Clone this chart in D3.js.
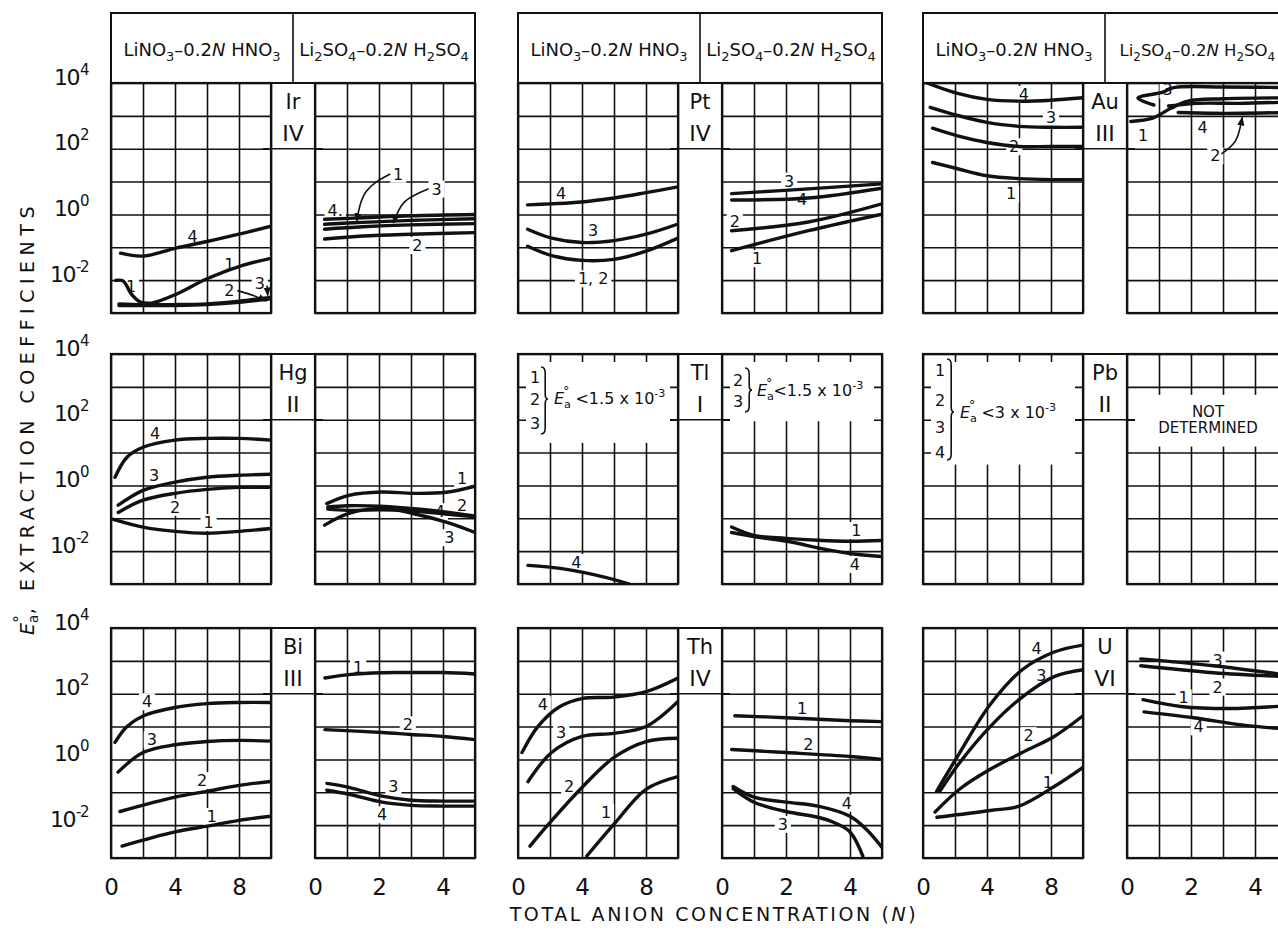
<!DOCTYPE html>
<html lang="en">
<head>
<meta charset="UTF-8">
<title>Extraction coefficients</title>
<script src="https://d3js.org/d3.v7.min.js"></script>
<style>
  body { margin: 0; background: #fff; }
  text { font-family: "DejaVu Sans", sans-serif; fill: #111; }
  .grid line { stroke: #111; stroke-width: 1.6; }
  .grid path { display: none; }
  .curve { fill: none; stroke: #111; stroke-width: 3.4; stroke-linecap: round; }
  .arrow { fill: none; stroke: #111; stroke-width: 1.6; }
</style>
</head>
<body>
<script>
// ---------- data (N, E) ----------
const elements = ["Ir", "Pt", "Au", "Hg", "Tl", "Pb", "Bi", "Th", "U"];
const valences = ["IV", "IV", "III", "II", "I", "II", "III", "IV", "VI"];
const nitrateTicks = [0, 4, 8];
const sulfateTicks = [0, 2, 4];
const decadeLabels = [1e4, 1e2, 1, 1e-2];
const decadeExp = ["4", "2", "0", "-2"];

const irNO3 = [
  { id: "4", pts: [[0.6, 0.066], [2, 0.054], [4, 0.093], [6, 0.15], [8, 0.25], [10, 0.44]] },
  { id: "1", pts: [[0.3, 0.0098], [0.75, 0.0095], [1.3, 0.0036], [1.8, 0.0022], [2.5, 0.002], [4, 0.0036], [6, 0.011], [8, 0.026], [10, 0.046]] },
  { id: "2", pts: [[0.5, 0.0017], [2, 0.0017], [4, 0.0017], [6, 0.0018], [8, 0.0021], [10, 0.0027]] },
  { id: "3", pts: [[0.5, 0.0019], [2, 0.0018], [4, 0.0018], [6, 0.0019], [8, 0.0023], [10, 0.003]] }
];
const irSO4 = [
  { id: "4", pts: [[0.3, 0.71], [1.5, 0.79], [3, 0.91], [5, 1.0]] },
  { id: "1", pts: [[0.3, 0.5], [1.5, 0.575], [3, 0.66], [5, 0.74]] },
  { id: "3", pts: [[0.3, 0.355], [1.5, 0.42], [3, 0.48], [5, 0.525]] },
  { id: "2", pts: [[0.3, 0.178], [1.5, 0.22], [3, 0.25], [5, 0.28]] }
];
const ptNO3 = [
  { id: "4", pts: [[0.6, 1.95], [2, 2.1], [4, 2.4], [6, 3.16], [8, 4.6], [10, 6.9]] },
  { id: "3", pts: [[0.6, 0.355], [2.1, 0.19], [4, 0.14], [6, 0.16], [8, 0.25], [10, 0.51]] },
  { id: "1,2", pts: [[0.6, 0.107], [2.1, 0.056], [4, 0.04], [6, 0.043], [8, 0.076], [10, 0.19]] }
];
const ptSO4 = [
  { id: "3", pts: [[0.3, 4.3], [2.7, 6.0], [5, 8.5]] },
  { id: "4", pts: [[0.3, 2.75], [2.7, 3.16], [5, 6.3]] },
  { id: "2", pts: [[0.3, 0.32], [2.7, 0.59], [5, 2.1]] },
  { id: "1", pts: [[0.3, 0.079], [2.7, 0.32], [5, 1.02]] }
];
const auNO3 = [
  { id: "4", pts: [[0.25, 10000], [2.1, 4900], [4, 3160], [6, 2800], [8, 3000], [10, 3550]] },
  { id: "3", pts: [[0.45, 1820], [2.1, 1050], [4, 630], [6, 480], [8, 450], [10, 450]] },
  { id: "2", pts: [[0.6, 420], [2.1, 250], [4, 155], [6, 117], [8, 117], [10, 117]] },
  { id: "1", pts: [[0.6, 38], [2.1, 25], [4, 15], [6, 12.3], [8, 11.5], [10, 11.5]] }
];
const auSO4 = [
  { id: "3", pts: [[0.84, 2140], [0.34, 3470], [1.12, 5250], [1.46, 7240], [3, 7590], [5, 7240]] },
  { id: "1", pts: [[0.12, 676], [0.8, 850], [1.37, 1700], [1.9, 2820], [3, 3310], [5, 3550]] },
  { id: "2", pts: [[1.3, 2000], [2.2, 2400], [3.5, 2400], [5, 2630]] },
  { id: "4", pts: [[1.6, 1260], [2.6, 1200], [3.6, 1200], [5, 1260]] }
];
const hgNO3 = [
  { id: "4", pts: [[0.25, 1.78], [1, 7.2], [2, 14.5], [4, 24], [6, 27], [8, 27], [10, 24]] },
  { id: "3", pts: [[0.45, 0.25], [2, 0.71], [4, 1.26], [6, 1.78], [8, 2.04], [10, 2.19]] },
  { id: "2", pts: [[0.45, 0.15], [2, 0.355], [4, 0.575], [6, 0.76], [8, 0.87], [10, 0.87]] },
  { id: "1", pts: [[0.15, 0.093], [2, 0.054], [4, 0.04], [6, 0.035], [8, 0.04], [10, 0.049]] }
];
const hgSO4 = [
  { id: "1", pts: [[0.37, 0.28], [1.06, 0.5], [2.1, 0.63], [3.06, 0.575], [4.1, 0.62], [5, 0.95]] },
  { id: "2", pts: [[0.4, 0.22], [1, 0.24], [2, 0.234], [3, 0.2], [4, 0.16], [5, 0.117]] },
  { id: "4", pts: [[0.4, 0.19], [1, 0.174], [2, 0.18], [3, 0.166], [4, 0.138], [5, 0.11]] },
  { id: "3", pts: [[0.3, 0.062], [1.06, 0.14], [2.1, 0.2], [3.06, 0.14], [4.1, 0.076], [5, 0.037]] }
];
const tlNO3 = [
  { id: "4", pts: [[0.62, 0.0037], [2.1, 0.0032], [4, 0.0023], [6.8, 0.00105], [7.2, 0.00089]] }
];
const tlSO4 = [
  { id: "1", pts: [[0.3, 0.054], [1.0, 0.03], [2, 0.0245], [3, 0.0214], [4, 0.02], [5, 0.021]] },
  { id: "4", pts: [[0.3, 0.037], [1.0, 0.028], [2.2, 0.0186], [3, 0.0126], [4, 0.0085], [5, 0.0069]] }
];
const pbNO3 = [];
const pbSO4 = [];
const biNO3 = [
  { id: "4", pts: [[0.25, 3.3], [1, 10], [2, 21], [4, 38], [6, 50], [8, 54], [10, 54]] },
  { id: "3", pts: [[0.44, 0.41], [2, 1.62], [4, 2.8], [6, 3.5], [8, 3.8], [10, 3.6]] },
  { id: "2", pts: [[0.56, 0.026], [4, 0.071], [6, 0.107], [8, 0.162], [10, 0.214]] },
  { id: "1", pts: [[0.69, 0.0023], [4, 0.0062], [6, 0.0093], [8, 0.014], [10, 0.0186]] }
];
const biSO4 = [
  { id: "1", pts: [[0.31, 300], [1.06, 380], [2.1, 436], [3, 440], [4, 440], [5, 400]] },
  { id: "2", pts: [[0.31, 8.1], [2.1, 6.6], [3, 5.75], [4, 5.0], [5, 4.0]] },
  { id: "3", pts: [[0.37, 0.186], [1.06, 0.141], [2.1, 0.076], [3, 0.0575], [4, 0.054], [5, 0.054]] },
  { id: "4", pts: [[0.37, 0.115], [1.06, 0.087], [2.1, 0.05], [3, 0.04], [4, 0.038], [5, 0.038]] }
];
const thNO3 = [
  { id: "4", pts: [[0.25, 1.62], [1.24, 10], [2.6, 40], [4, 71], [6, 79], [8, 115], [10, 300]] },
  { id: "3", pts: [[0.62, 0.21], [2.1, 1.62], [4, 5], [6, 6.2], [8, 10], [10, 58]] },
  { id: "2", pts: [[0.75, 0.0023], [1.8, 0.0093], [4, 0.14], [6, 1.15], [8, 3.5], [10, 4.4]] },
  { id: "1", pts: [[4.3, 0.00115], [6, 0.0107], [8, 0.123], [10, 0.3]] }
];
const thSO4 = [
  { id: "1", pts: [[0.4, 21.4], [2, 18.6], [4, 15.1], [5, 14.1]] },
  { id: "2", pts: [[0.3, 2.0], [2, 1.62], [4, 1.23], [5, 1.0]] },
  { id: "4", pts: [[0.35, 0.15], [1, 0.071], [2, 0.05], [3, 0.038], [4, 0.0186], [4.5, 0.0076], [5, 0.0021]] },
  { id: "3", pts: [[0.35, 0.13], [1, 0.05], [2, 0.026], [3, 0.0174], [3.5, 0.012], [4, 0.0062], [4.4, 0.00115]] }
];
const uNO3 = [
  { id: "4", pts: [[0.85, 0.107], [2.3, 1.62], [4.2, 47], [6.2, 537], [8.2, 1860], [10, 3020]] },
  { id: "3", pts: [[1.05, 0.107], [2.3, 0.81], [4.2, 10], [6.2, 79], [8.2, 331], [10, 537]] },
  { id: "2", pts: [[0.75, 0.025], [2.3, 0.126], [4.2, 0.5], [6.2, 1.62], [8.2, 5.0], [10, 21.4]] },
  { id: "1", pts: [[0.87, 0.0174], [4.2, 0.028], [6, 0.038], [8.2, 0.15], [10, 0.575]] }
];
const uSO4 = [
  { id: "3", pts: [[0.43, 1150], [2.7, 708], [5, 370]] },
  { id: "2", pts: [[0.43, 708], [2.7, 436], [5, 331]] },
  { id: "1", pts: [[0.5, 66], [1.68, 41], [3.2, 35.5], [5, 43]] },
  { id: "4", pts: [[0.53, 28], [2.08, 18.6], [3.76, 10.7], [5, 8.5]] }
];

// curve number labels [N, E, text]
const irNO3Labels = [[5.1, 0.22, "4"], [1.25, 0.0063, "1"], [7.4, 0.03, "1"], [7.4, 0.005, "2"], [9.3, 0.0079, "3"]];
const irSO4Labels = [[0.63, 1.35, "4."], [2.6, 17, "1"], [3.8, 6, "3"], [3.2, 0.115, "2"]];
const ptNO3Labels = [[2.7, 4.3, "4"], [4.7, 0.32, "3"], [4.7, 0.0112, "1, 2"]];
const ptSO4Labels = [[2.1, 10.5, "3"], [2.5, 2.95, "4"], [0.4, 0.63, "2"], [1.1, 0.046, "1"]];
const auNO3Labels = [[6.3, 4570, "4"], [8, 912, "3"], [5.7, 117, "2"], [5.5, 4.3, "1"]];
const auSO4Labels = [[1.27, 6300, "3"], [0.5, 250, "1"], [2.36, 447, "4"], [2.76, 62, "2"]];
const hgNO3Labels = [[2.75, 40, "4"], [2.7, 2.04, "3"], [4, 0.22, "2"], [6.1, 0.076, "1"]];
const hgSO4Labels = [[4.6, 1.66, "1"], [4.6, 0.25, "2"], [3.9, 0.162, "4"], [4.2, 0.026, "3"]];
const tlNO3Labels = [[3.65, 0.0046, "4"]];
const tlSO4Labels = [[4.2, 0.043, "1"], [4.15, 0.004, "4"]];
const biNO3Labels = [[2.25, 58, "4"], [2.55, 4, "3"], [5.7, 0.23, "2"], [6.3, 0.0186, "1"]];
const biSO4Labels = [[1.35, 660, "1"], [2.9, 11.5, "2"], [2.45, 0.15, "3"], [2.1, 0.021, "4"]];
const thNO3Labels = [[1.55, 47, "4"], [2.7, 6.6, "3"], [3.2, 0.15, "2"], [5.5, 0.025, "1"]];
const thSO4Labels = [[2.5, 35.5, "1"], [2.7, 2.8, "2"], [3.9, 0.047, "4"], [1.9, 0.0107, "3"]];
const uNO3Labels = [[7.1, 2450, "4"], [7.4, 355, "3"], [6.6, 5.4, "2"], [7.8, 0.2, "1"]];
const uSO4Labels = [[2.83, 1070, "3"], [2.83, 162, "2"], [1.77, 76, "1"], [2.24, 10, "4"]];

// leader arrows, from label towards curve
const irNO3Arrows = [[[7.9, 0.0048], [8.9, 0.0034], [9.7, 0.0023]], [[9.75, 0.0068], [9.8, 0.0034]]];
const irSO4Arrows = [[[2.35, 17], [1.6, 5], [1.3, 0.62]], [[3.55, 6], [2.8, 2.4], [2.45, 0.55]]];
const auSO4Arrows = [[[2.95, 70], [3.4, 180], [3.6, 900]]];

// ---------- layout ----------
const W = 1278, H = 933;
const rowTop = [83, 354, 628], plotH = 230;
const colLeft = [111, 518, 923], subW = 160, gapW = 44;
const ink = "#111";

const panels = [
  { no3: irNO3, so4: irSO4, no3L: irNO3Labels, so4L: irSO4Labels, no3A: irNO3Arrows, so4A: irSO4Arrows },
  { no3: ptNO3, so4: ptSO4, no3L: ptNO3Labels, so4L: ptSO4Labels },
  { no3: auNO3, so4: auSO4, no3L: auNO3Labels, so4L: auSO4Labels, so4A: auSO4Arrows },
  { no3: hgNO3, so4: hgSO4, no3L: hgNO3Labels, so4L: hgSO4Labels },
  { no3: tlNO3, so4: tlSO4, no3L: tlNO3Labels, so4L: tlSO4Labels, no3Blank: [1e4, 22], so4Blank: [1e4, 100] },
  { no3: pbNO3, so4: pbSO4, no3L: [], so4L: [], no3Blank: [1e4, 4.8], so4Blank: [1e3, 17] },
  { no3: biNO3, so4: biSO4, no3L: biNO3Labels, so4L: biSO4Labels },
  { no3: thNO3, so4: thSO4, no3L: thNO3Labels, so4L: thSO4Labels },
  { no3: uNO3, so4: uSO4, no3L: uNO3Labels, so4L: uSO4Labels }
];

const svg = d3.select("body").append("svg")
  .attr("width", W).attr("height", H)
  .style("background", "#fff");

const defs = svg.append("defs");
defs.append("marker").attr("id", "head")
  .attr("viewBox", "0 0 10 10").attr("refX", 9).attr("refY", 5)
  .attr("markerWidth", 9).attr("markerHeight", 9).attr("markerUnits", "userSpaceOnUse")
  .attr("orient", "auto")
  .append("path").attr("d", "M0,1 L10,5 L0,9 Z").attr("fill", ink);

const allDecades = [1e-3, 1e-2, 1e-1, 1, 1e1, 1e2, 1e3, 1e4];
let clipId = 0;

function drawSub(x0, top, xmax, gridStep, curves, labels, arrows, blank) {
  const x = d3.scaleLinear().domain([0, xmax]).range([x0, x0 + subW]);
  const y = d3.scaleLog().domain([1e-3, 1e4]).range([top + plotH, top]);
  const g = svg.append("g");

  g.append("g").attr("class", "grid")
    .attr("transform", "translate(0," + (top + plotH) + ")")
    .call(d3.axisBottom(x).tickValues(d3.range(0, xmax + 0.001, gridStep)).tickSize(-plotH).tickFormat(""));
  g.append("g").attr("class", "grid")
    .attr("transform", "translate(" + x0 + ",0)")
    .call(d3.axisLeft(y).tickValues(allDecades).tickSize(-subW).tickFormat(""));

  if (blank) {
    const yt = y(blank[0]) + 8, yb = y(blank[1]) + 1.5;
    g.append("rect").attr("x", x0 + 8).attr("y", yt)
      .attr("width", subW - 16).attr("height", yb - yt).attr("fill", "#fff");
  }

  g.append("rect").attr("x", x0).attr("y", top).attr("width", subW).attr("height", plotH)
    .attr("fill", "none").attr("stroke", ink).attr("stroke-width", 2.2);

  // label backgrounds break the grid lines
  const bg = g.append("g");
  const ids = "c" + (clipId++);
  defs.append("clipPath").attr("id", ids).append("rect")
    .attr("x", x0).attr("y", top).attr("width", subW).attr("height", plotH);

  const line = d3.line().x(d => x(d[0])).y(d => y(d[1])).curve(d3.curveCatmullRom.alpha(0.5));
  g.append("g").attr("clip-path", "url(#" + ids + ")")
    .selectAll("path").data(curves).join("path")
    .attr("class", "curve").attr("d", d => line(d.pts));

  const txt = g.append("g");
  labels.forEach(l => {
    const t = txt.append("text").attr("x", x(l[0])).attr("y", y(l[1]))
      .attr("text-anchor", "middle").attr("dy", "0.36em")
      .attr("font-size", 16).text(l[2]);
    const b = t.node().getBBox();
    bg.append("rect").attr("x", b.x - 3).attr("y", b.y + 1)
      .attr("width", b.width + 6).attr("height", b.height - 2).attr("fill", "#fff");
  });

  const aline = d3.line().x(d => x(d[0])).y(d => y(d[1])).curve(d3.curveNatural);
  (arrows || []).forEach(a => {
    g.append("path").attr("class", "arrow").attr("d", aline(a)).attr("marker-end", "url(#head)");
  });
  return { x, y };
}

function formula(t, parts) {
  // parts: [text, kind] with kind "" | "sub" | "it"
  let low = false;
  parts.forEach(([s, k]) => {
    const sp = t.append("tspan").text(s);
    if (k === "sub" && !low) { sp.attr("dy", 5).attr("font-size", "0.72em"); low = true; }
    else if (k === "sub") { sp.attr("font-size", "0.72em"); }
    else if (low) { sp.attr("dy", -5); low = false; }
    if (k === "it") sp.attr("font-style", "italic");
  });
}
const nitrateHead = [["LiNO", ""], ["3", "sub"], ["\u20130.2", ""], ["N", "it"], [" HNO", ""], ["3", "sub"]];
const sulfateHead = [["Li", ""], ["2", "sub"], ["SO", ""], ["4", "sub"], ["\u20130.2", ""], ["N", "it"], [" H", ""], ["2", "sub"], ["SO", ""], ["4", "sub"]];

const scales = [];
panels.forEach((p, i) => {
  const r = Math.floor(i / 3), c = i % 3;
  const top = rowTop[r];
  const xl = colLeft[c], xr = colLeft[c] + subW + gapW;
  const left = drawSub(xl, top, 10, 2, p.no3, p.no3L, p.no3A, p.no3Blank);
  const right = drawSub(xr, top, 5, 1, p.so4, p.so4L, p.so4A, p.so4Blank);
  scales.push({ left, right });

  // element box in the gap
  const gx = xl + subW, cx = gx + gapW / 2;
  svg.append("line").attr("x1", gx - 8).attr("x2", xr + 8)
    .attr("y1", left.y(1e2)).attr("y2", left.y(1e2))
    .attr("stroke", ink).attr("stroke-width", 1.6);
  svg.append("line").attr("x1", gx).attr("x2", xr).attr("y1", top).attr("y2", top)
    .attr("stroke", ink).attr("stroke-width", 2.2);
  svg.append("text").attr("x", cx).attr("y", top + 26).attr("text-anchor", "middle")
    .attr("font-size", 21).text(elements[i]);
  svg.append("text").attr("x", cx).attr("y", top + 58).attr("text-anchor", "middle")
    .attr("font-size", 22).attr("font-family", "'DejaVu Serif', serif").text(valences[i]);

  // header on the first row
  if (r === 0) {
    const hx0 = xl, hx1 = xr + subW;
    svg.append("rect").attr("x", hx0).attr("y", 13).attr("width", hx1 - hx0).attr("height", top - 13)
      .attr("fill", "none").attr("stroke", ink).attr("stroke-width", 2);
    svg.append("line").attr("x1", cx).attr("x2", cx).attr("y1", 13).attr("y2", top)
      .attr("stroke", ink).attr("stroke-width", 1.6);
    formula(svg.append("text").attr("x", (hx0 + cx) / 2).attr("y", 56)
      .attr("text-anchor", "middle").attr("font-size", 18), nitrateHead);
    // the right-most header runs into the page edge, so it is kept inside
    const edge = hx1 > W;
    formula(svg.append("text").attr("x", edge ? W - 3 : (cx + hx1) / 2).attr("y", 56)
      .attr("text-anchor", edge ? "end" : "middle").attr("font-size", edge ? 16.5 : 18), sulfateHead);
  }

  // x tick labels on the bottom row
  if (r === 2) {
    [[left.x, nitrateTicks], [right.x, sulfateTicks]].forEach(([sx, tv]) => {
      const ax = svg.append("g").attr("transform", "translate(0," + (top + plotH) + ")")
        .call(d3.axisBottom(sx).tickValues(tv).tickSize(0).tickFormat(d3.format("d")));
      ax.select(".domain").remove();
      ax.selectAll("text").attr("y", 29).attr("dy", "0.36em")
        .attr("font-size", 23).attr("font-family", "'DejaVu Sans', sans-serif").attr("fill", ink);
    });
  }

  // y tick labels on the first column
  if (c === 0) {
    const ay = svg.append("g").attr("transform", "translate(" + xl + ",0)")
      .call(d3.axisLeft(left.y).tickValues(decadeLabels).tickSize(0).tickFormat(""));
    ay.select(".domain").remove();
    ay.selectAll(".tick text").each(function (d, k) {
      const t = d3.select(this).attr("x", -23).attr("dy", "0.05em")
        .attr("font-size", 22).attr("font-family", "'DejaVu Sans', sans-serif")
        .attr("letter-spacing", -1.5).attr("fill", ink);
      t.append("tspan").text("10");
      t.append("tspan").attr("dy", -10).attr("dx", 1).attr("font-size", 15).text(decadeExp[k]);
    });
  }
});

// E_a° expression helper
function ea(t, rest, exp) {
  t.append("tspan").attr("font-style", "italic").attr("letter-spacing", 0).text("E");
  t.append("tspan").attr("font-size", "0.7em").attr("letter-spacing", 0).attr("dy", 4).text("a");
  t.append("tspan").attr("font-size", "0.8em").attr("letter-spacing", 0).attr("dx", -8).attr("dy", -13).text("\u00b0");
  t.append("tspan").attr("dy", 9).attr("dx", 1).text(rest);
  if (exp) t.append("tspan").attr("font-size", "0.7em").attr("dy", -7).text(exp);
}
function brace(x, y0, y1, ym) {
  const w = 7;
  svg.append("path").attr("fill", "none").attr("stroke", ink).attr("stroke-width", 1.6)
    .attr("d", `M${x},${y0} Q${x + w * 0.6},${y0} ${x + w * 0.6},${y0 + 6} L${x + w * 0.6},${ym - 5} Q${x + w * 0.6},${ym} ${x + w},${ym} Q${x + w * 0.6},${ym} ${x + w * 0.6},${ym + 5} L${x + w * 0.6},${y1 - 6} Q${x + w * 0.6},${y1} ${x},${y1}`);
}
function stack(x, ys, items) {
  items.forEach((s, k) => svg.append("text").attr("x", x).attr("y", ys[k]).attr("dy", "0.36em")
    .attr("text-anchor", "middle").attr("font-size", 16).text(s));
}

// Tl notes
{
  const L = scales[4].left.x.range()[0], R = scales[4].right.x.range()[0], top = rowTop[1];
  stack(L + 17, [top + 23, top + 45, top + 69], ["1", "2", "3"]);
  brace(L + 23, top + 13, top + 80, top + 45);
  ea(svg.append("text").attr("x", L + 36).attr("y", top + 50).attr("font-size", 16), " <1.5 x 10", "-3");
  stack(R + 16, [top + 26, top + 47], ["2", "3"]);
  brace(R + 23, top + 14, top + 58, top + 36);
  ea(svg.append("text").attr("x", R + 35).attr("y", top + 42).attr("font-size", 16), "<1.5 x 10", "-3");
}
// Pb notes
{
  const L = scales[5].left.x.range()[0], R = scales[5].right.x.range()[0], top = rowTop[1];
  stack(L + 17, [top + 16, top + 46, top + 73, top + 98], ["1", "2", "3", "4"]);
  brace(L + 24, top + 5, top + 106, top + 58);
  ea(svg.append("text").attr("x", L + 37).attr("y", top + 64).attr("font-size", 16), " <3 x 10", "-3");
  svg.append("text").attr("x", R + subW / 2 + 1).attr("y", top + 63).attr("text-anchor", "middle")
    .attr("font-size", 15).text("NOT");
  svg.append("text").attr("x", R + subW / 2 + 1).attr("y", top + 79).attr("text-anchor", "middle")
    .attr("font-size", 15).text("DETERMINED");
}

// axis titles
const xt = svg.append("text").attr("x", 714).attr("y", 921).attr("text-anchor", "middle")
  .attr("font-size", 19).attr("letter-spacing", 2.6);
xt.append("tspan").text("TOTAL ANION CONCENTRATION (");
xt.append("tspan").attr("font-style", "italic").text("N");
xt.append("tspan").text(")");

const yt = svg.append("text").attr("transform", "translate(34,418) rotate(-90)")
  .attr("text-anchor", "middle").attr("font-size", 19).attr("letter-spacing", 5.5);
ea(yt, ", EXTRACTION COEFFICIENTS");
</script>
</body>
</html>
